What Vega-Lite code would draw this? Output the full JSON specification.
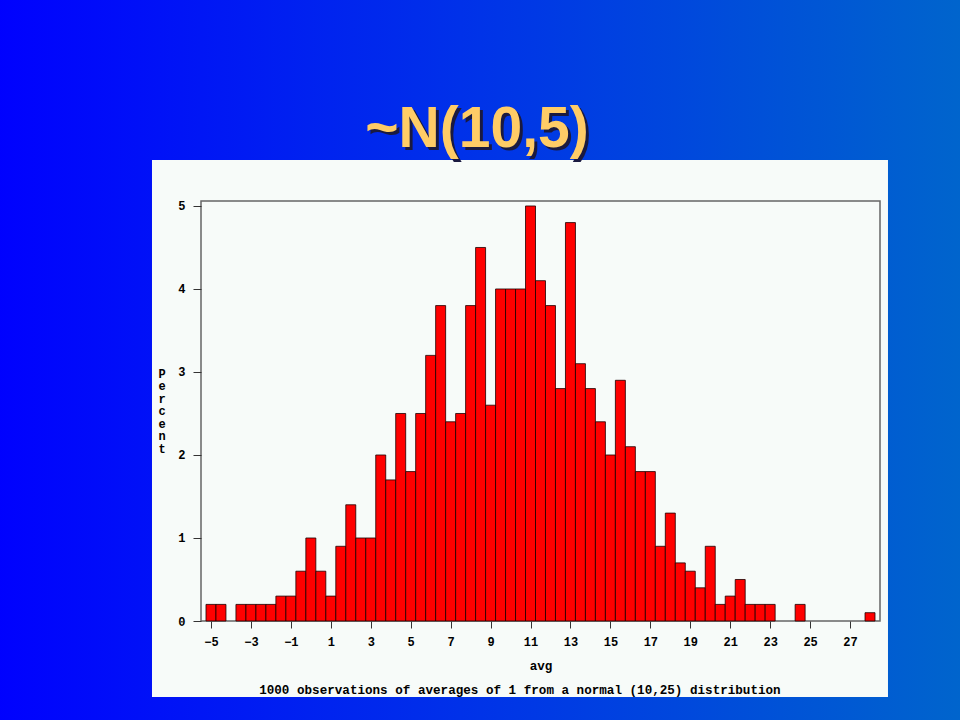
{
  "$schema": "https://vega.github.io/schema/vega-lite/v6.json",
  "width": 679,
  "height": 420,
  "autosize": {"type": "none"},
  "padding": {"left": 201, "top": 201, "right": 80, "bottom": 99},
  "background": "#0033EE",
  "config": {"view": {"stroke": null}},
  "datasets": {
    "hist": [
      {"mid": -5, "percent": 0.2}, {"mid": -4.5, "percent": 0.2}, {"mid": -4, "percent": 0},
      {"mid": -3.5, "percent": 0.2}, {"mid": -3, "percent": 0.2}, {"mid": -2.5, "percent": 0.2},
      {"mid": -2, "percent": 0.2}, {"mid": -1.5, "percent": 0.3}, {"mid": -1, "percent": 0.3},
      {"mid": -0.5, "percent": 0.6}, {"mid": 0, "percent": 1.0}, {"mid": 0.5, "percent": 0.6},
      {"mid": 1, "percent": 0.3}, {"mid": 1.5, "percent": 0.9}, {"mid": 2, "percent": 1.4},
      {"mid": 2.5, "percent": 1.0}, {"mid": 3, "percent": 1.0}, {"mid": 3.5, "percent": 2.0},
      {"mid": 4, "percent": 1.7}, {"mid": 4.5, "percent": 2.5}, {"mid": 5, "percent": 1.8},
      {"mid": 5.5, "percent": 2.5}, {"mid": 6, "percent": 3.2}, {"mid": 6.5, "percent": 3.8},
      {"mid": 7, "percent": 2.4}, {"mid": 7.5, "percent": 2.5}, {"mid": 8, "percent": 3.8},
      {"mid": 8.5, "percent": 4.5}, {"mid": 9, "percent": 2.6}, {"mid": 9.5, "percent": 4.0},
      {"mid": 10, "percent": 4.0}, {"mid": 10.5, "percent": 4.0}, {"mid": 11, "percent": 5.0},
      {"mid": 11.5, "percent": 4.1}, {"mid": 12, "percent": 3.8}, {"mid": 12.5, "percent": 2.8},
      {"mid": 13, "percent": 4.8}, {"mid": 13.5, "percent": 3.1}, {"mid": 14, "percent": 2.8},
      {"mid": 14.5, "percent": 2.4}, {"mid": 15, "percent": 2.0}, {"mid": 15.5, "percent": 2.9},
      {"mid": 16, "percent": 2.1}, {"mid": 16.5, "percent": 1.8}, {"mid": 17, "percent": 1.8},
      {"mid": 17.5, "percent": 0.9}, {"mid": 18, "percent": 1.3}, {"mid": 18.5, "percent": 0.7},
      {"mid": 19, "percent": 0.6}, {"mid": 19.5, "percent": 0.4}, {"mid": 20, "percent": 0.9},
      {"mid": 20.5, "percent": 0.2}, {"mid": 21, "percent": 0.3}, {"mid": 21.5, "percent": 0.5},
      {"mid": 22, "percent": 0.2}, {"mid": 22.5, "percent": 0.2}, {"mid": 23, "percent": 0.2},
      {"mid": 23.5, "percent": 0}, {"mid": 24, "percent": 0}, {"mid": 24.5, "percent": 0.2},
      {"mid": 25, "percent": 0}, {"mid": 25.5, "percent": 0}, {"mid": 26, "percent": 0},
      {"mid": 26.5, "percent": 0}, {"mid": 27, "percent": 0}, {"mid": 27.5, "percent": 0},
      {"mid": 28, "percent": 0.1}
    ],
    "one": [{"item": "single"}]
  },
  "layer": [
    {
      "data": {"name": "one"},
      "mark": {"type": "rect", "color": {"gradient": "linear", "x1": 0, "y1": 0, "x2": 1, "y2": 0,
        "stops": [{"offset": 0, "color": "#0000FF"}, {"offset": 0.5, "color": "#0033E8"}, {"offset": 1, "color": "#0066CC"}]}},
      "encoding": {
        "x": {"datum": -16.2, "type": "quantitative", "scale": {"domain": [-5.5, 28.5], "nice": false, "zero": false, "padding": 0},
          "axis": {"values": [-5,-3,-1,1,3,5,7,9,11,13,15,17,19,21,23,25,27], "domain": false, "grid": false, "format": "d",
            "tickSize": 7, "tickColor": "#333333", "labelPadding": 8, "labelFont": "Liberation Mono", "labelFontWeight": "bold",
            "labelFontSize": 12, "labelColor": "#000000", "labelFlush": false, "labelOverlap": false,
            "title": "avg", "titleFont": "Liberation Mono", "titleFontWeight": "bold", "titleFontSize": 12.6, "titleColor": "#000000",
            "titleY": 44, "titleBaseline": "middle", "zindex": 1}},
        "x2": {"datum": 33.2},
        "y": {"datum": -1.4, "type": "quantitative", "scale": {"domain": [0, 5.06], "nice": false, "zero": false, "padding": 0},
          "axis": {"values": [0,1,2,3,4,5], "domain": false, "grid": false, "format": "d",
            "tickSize": 8, "tickColor": "#333333", "labelPadding": 8, "labelFont": "Liberation Mono", "labelFontWeight": "bold",
            "labelFontSize": 12, "labelColor": "#000000", "labelFlush": false, "labelOverlap": false,
            "title": ["P","e","r","c","e","n","t"], "titleAngle": 0, "titleAlign": "center", "titleBaseline": "middle",
            "titleLineHeight": 12.5, "titleX": -39.5, "titleY": 172,
            "titleFont": "Liberation Mono", "titleFontWeight": "bold", "titleFontSize": 12, "titleColor": "#000000", "zindex": 1}},
        "y2": {"datum": 7.7}
      }
    },
    {
      "data": {"name": "one"},
      "mark": {"type": "rect", "color": "#F7FBF9"},
      "encoding": {
        "x": {"datum": -7.954, "type": "quantitative"},
        "x2": {"datum": 28.9},
        "y": {"datum": -0.9156, "type": "quantitative"},
        "y2": {"datum": 5.554}
      }
    },
    {
      "data": {"name": "one"},
      "mark": {"type": "rect", "fill": null, "fillOpacity": 0, "stroke": "#666666", "strokeWidth": 1.5},
      "encoding": {
        "x": {"datum": -5.5, "type": "quantitative"},
        "x2": {"datum": 28.5},
        "y": {"datum": 0, "type": "quantitative"},
        "y2": {"datum": 5.06}
      }
    },
    {
      "data": {"name": "hist"},
      "transform": [{"filter": "datum.percent > 0"}],
      "mark": {"type": "bar", "width": 9.985, "fill": "#FF0000", "stroke": "#1a0000", "strokeWidth": 0.8},
      "encoding": {
        "x": {"field": "mid", "type": "quantitative"},
        "y": {"field": "percent", "type": "quantitative"}
      }
    },
    {
      "data": {"name": "one"},
      "mark": {"type": "text", "text": "1000 observations of averages of 1 from a normal (10,25) distribution",
        "font": "Liberation Mono", "fontWeight": "bold", "fontSize": 12.6, "color": "#000000", "align": "center", "baseline": "middle"},
      "encoding": {
        "x": {"datum": 10.47, "type": "quantitative"},
        "y": {"datum": -0.831, "type": "quantitative"}
      }
    },
    {
      "data": {"name": "one"},
      "mark": {"type": "text", "text": "~N(10,5)", "font": "Liberation Sans", "fontWeight": "bold", "fontSize": 57,
        "color": "#1a1a40", "align": "center", "baseline": "alphabetic", "dx": 3, "dy": 3},
      "encoding": {
        "x": {"datum": 8.32, "type": "quantitative"},
        "y": {"datum": 5.71, "type": "quantitative"}
      }
    },
    {
      "data": {"name": "one"},
      "mark": {"type": "text", "text": "~N(10,5)", "font": "Liberation Sans", "fontWeight": "bold", "fontSize": 57,
        "color": "#FFCC66", "align": "center", "baseline": "alphabetic"},
      "encoding": {
        "x": {"datum": 8.32, "type": "quantitative"},
        "y": {"datum": 5.71, "type": "quantitative"}
      }
    }
  ]
}
